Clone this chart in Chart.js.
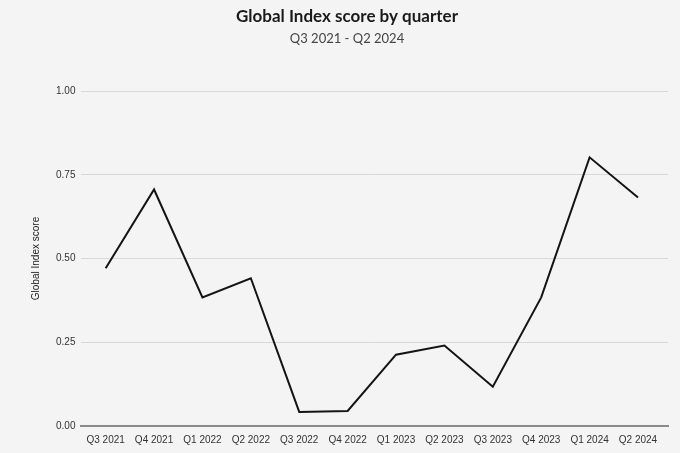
<!DOCTYPE html>
<html>
<head>
<meta charset="utf-8">
<script src="https://cdn.jsdelivr.net/npm/chart.js@4"></script>
<style>
  html, body { margin: 0; padding: 0; background: #f4f4f4; }
  #wrap { width: 680px; height: 453px; }
</style>
</head>
<body>
<div id="wrap"><canvas id="myChart"></canvas></div>
<script>
const quarters = ['Q3 2021', 'Q4 2021', 'Q1 2022', 'Q2 2022', 'Q3 2022', 'Q4 2022',
  'Q1 2023', 'Q2 2023', 'Q3 2023', 'Q4 2023', 'Q1 2024', 'Q2 2024'];
const scores = [0.471, 0.706, 0.384, 0.441, 0.042, 0.045, 0.213, 0.240, 0.117, 0.384, 0.802, 0.682];
const yTicks = [0, 0.25, 0.5, 0.75, 1];

const points = scores.map((v, i) => ({x: i, y: v}));

const ctx = document.getElementById('myChart');
new Chart(ctx, {
  type: 'line',
  data: {
    datasets: [{
      label: 'Global Index score',
      data: points,
      borderColor: '#141414',
      borderWidth: 2,
      pointRadius: 0,
      tension: 0,
      fill: false
    }]
  },
  options: {
    responsive: true,
    maintainAspectRatio: false,
    animation: false,
    layout: { padding: { left: 26, right: 12, top: 6, bottom: 7 } },
    plugins: {
      legend: { display: false },
      tooltip: { enabled: false },
      title: {
        display: true,
        text: 'Global Index score by quarter',
        color: '#1a1a1a',
        font: { family: 'Lato', size: 17, weight: 'bold' },
        padding: { top: 0, bottom: 5 }
      },
      subtitle: {
        display: true,
        text: 'Q3 2021 - Q2 2024',
        color: '#444',
        font: { family: 'Lato', size: 13 },
        padding: { bottom: 44 }
      }
    },
    scales: {
      x: {
        type: 'linear',
        min: -0.5,
        max: 11.62,
        afterBuildTicks: (axis) => {
          axis.ticks = quarters.map((q, i) => ({value: i}));
        },
        afterFit: (axis) => {
          axis.paddingLeft = 0;
          axis.paddingRight = 0;
        },
        ticks: {
          autoSkip: false,
          maxRotation: 0,
          color: '#333',
          font: { family: 'Liberation Sans', size: 10 },
          padding: 0,
          callback: (v) => quarters[v]
        },
        grid: { display: false },
        border: { color: '#8a8a8a', width: 2 }
      },
      y: {
        min: 0,
        max: 1,
        afterBuildTicks: (axis) => {
          axis.ticks = yTicks.map(v => ({value: v}));
        },
        ticks: {
          color: '#333',
          font: { family: 'Liberation Sans', size: 10 },
          padding: 6,
          callback: (v) => v.toFixed(2)
        },
        grid: { color: '#d8d8d8', lineWidth: 1, drawTicks: false },
        border: { display: false },
        title: {
          display: true,
          text: 'Global Index score',
          color: '#222',
          font: { family: 'Liberation Sans', size: 10 },
          padding: { bottom: 8 }
        }
      }
    }
  }
});
</script>
</body>
</html>
